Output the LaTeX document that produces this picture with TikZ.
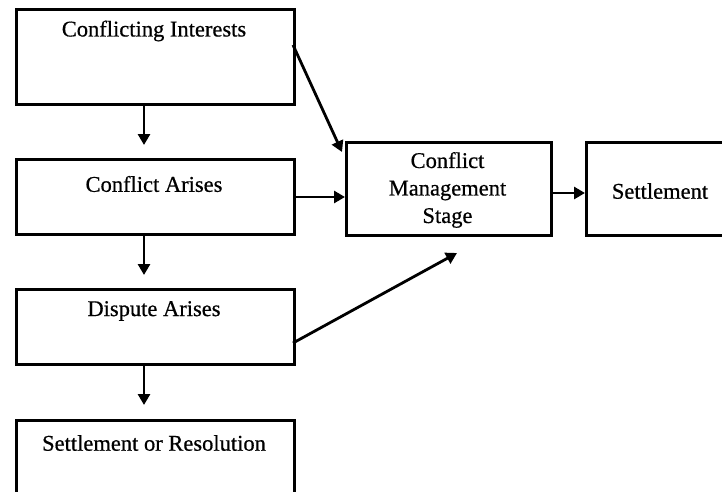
\documentclass[tikz,border=0pt]{standalone}
\usepackage{fontspec}
\setmainfont{Liberation Serif}
\newfontfamily\inkfont[FakeBold=0.6]{Liberation Serif}
\usetikzlibrary{arrows.meta,calc}
\begin{document}
\begin{tikzpicture}[x=1pt,y=-1pt,
  box/.style={draw=black,line width=2.8pt,rectangle,inner sep=0pt,anchor=north west},
  lbl/.style={font=\inkfont\fontsize{22.5}{27.5}\selectfont,align=center,inner sep=0pt},
  arr/.style={line width=2.8pt,-{Triangle[length=11pt,width=12pt]}}]
\useasboundingbox (0,0) rectangle (722,492);
\clip (0,0) rectangle (722,492);
\fill[white] (0,0) rectangle (722,492);
% boxes
\node[box,minimum width=278pt,minimum height=95pt] (ci) at (15,8) {};
\node[box,minimum width=278pt,minimum height=75pt] (ca) at (15,158) {};
\node[box,minimum width=278pt,minimum height=75pt] (da) at (15,288) {};
\node[box,minimum width=278pt,minimum height=100pt] (sr) at (15,419) {};
\node[box,minimum width=205pt,minimum height=93pt] (cms) at (345,141) {};
\node[box,minimum width=137pt,minimum height=93pt] (st) at (585,141) {};
% labels
\node[lbl] (tci) at (154,31) {Conflicting Interests};
\node[lbl] (tca) at (154,184) {Conflict Arises};
\node[lbl] (tda) at (154,311) {Dispute Arises};
\node[lbl] (tsr) at (154,443) {Settlement or Resolution};
\node[lbl] (tcms) at (447.5,190) {Conflict\\Management\\Stage};
\node[lbl] (tst) at (660,191) {Settlement};
% coordinates
\coordinate (a1) at (144,145);
\coordinate (a2) at (144,275);
\coordinate (a3) at (144,405);
\coordinate (d1s) at (293,45);
\coordinate (d1e) at (342,152);
\coordinate (d2s) at (293,343);
\coordinate (d2e) at (457,253);
% connectors
\draw[arr] (ci.south -| a1) -- (a1);
\draw[arr] (ca.south -| a2) -- (a2);
\draw[arr] (da.south -| a3) -- (a3);
\draw[arr] (d1s) -- (d1e);
\draw[arr] (ca.east |- 0,197) -- (cms.west |- 0,197);
\draw[arr] (d2s) -- (d2e);
\draw[arr] (cms.east |- 0,193) -- (st.west |- 0,193);
\end{tikzpicture}
\end{document}
